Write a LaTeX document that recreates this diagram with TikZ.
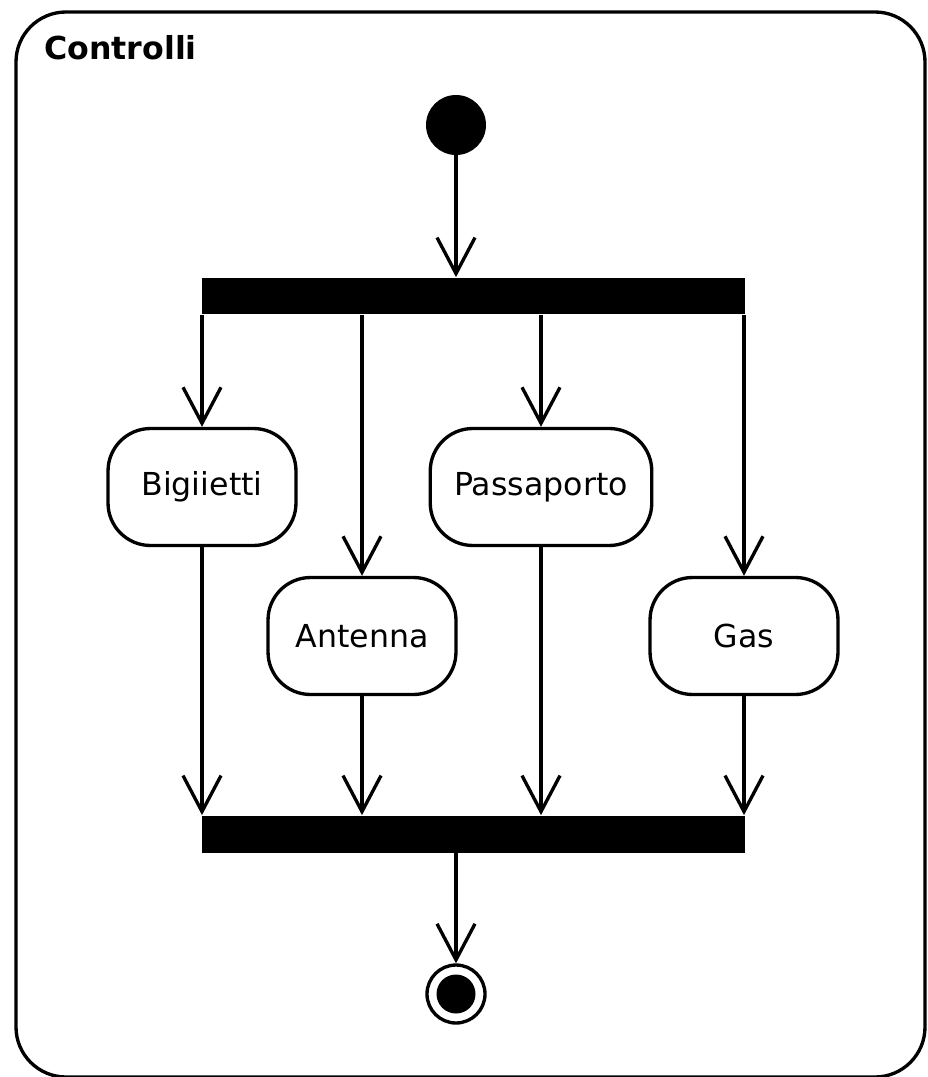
\documentclass[tikz,border=0pt]{standalone}
\usepackage{fontspec}
\setmainfont{DejaVu Sans}
\usetikzlibrary{arrows.meta,positioning}

\tikzset{
  activity/.style={draw, line width=1.9pt, rounded corners=0.85cm, align=center,
    minimum width=3.76cm, minimum height=2.34cm, inner xsep=0.48cm,
    font=\fontsize{18}{20}\selectfont},
  bar/.style={fill=black, inner sep=0pt, minimum width=10.86cm, minimum height=0.74cm},
  flow/.style={line width=1.9pt, -{Straight Barb[length=0.72cm, width=0.76cm, line width=1.9pt]}}
}

\begin{document}
\begin{tikzpicture}[x=0.02cm, y=-0.02cm]
  \useasboundingbox (0,0) rectangle (927,1077);
  \draw[line width=1.9pt, rounded corners=1cm] (16,12) rectangle (925,1077);
  \node[anchor=base west, inner sep=0pt, font=\fontsize{18}{20}\selectfont\bfseries] (title) at (44,60) {Controlli};

  \node[circle, fill=black, minimum size=1.2cm, inner sep=0pt] (start) at (456,125) {};
  \node[bar] (fork) at (473.5,296) {};
  \node[activity] (big) at (202,487) {Bigiietti};
  \node[activity] (pass) at (541,487) {Passaporto};
  \node[activity] (ant) at (362,636) {Antenna};
  \node[activity] (gas) at (744,636) {Gas};
  \node[bar] (join) at (473.5,834) {};
  \node[circle, draw, line width=1.9pt, minimum size=1.16cm, inner sep=0pt] (final) at (456,994) {};
  \node[circle, fill=black, minimum size=0.78cm, inner sep=0pt] (finalDot) at (final) {};

  \path[flow]
    (start) edge (start |- fork.north)
    (big.north |- fork.south) edge (big.north)
    (pass.north |- fork.south) edge (pass.north)
    (ant.north |- fork.south) edge (ant.north)
    (gas.north |- fork.south) edge (gas.north)
    (big.south) edge (big.south |- join.north)
    (ant.south) edge (ant.south |- join.north)
    (pass.south) edge (pass.south |- join.north)
    (gas.south) edge (gas.south |- join.north)
    (final |- join.south) edge (final.north)
    ;
\end{tikzpicture}
\end{document}
